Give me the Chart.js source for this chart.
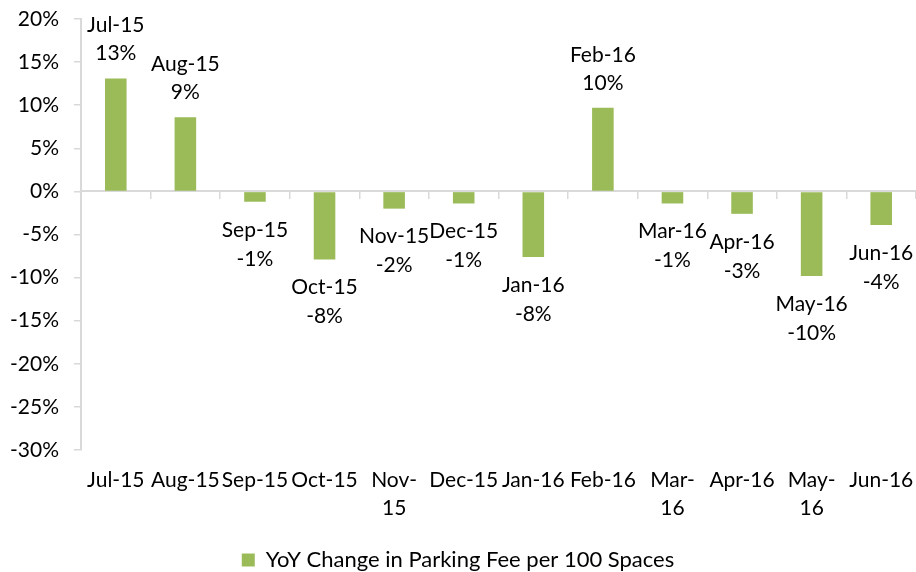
<!DOCTYPE html>
<html>
<head>
<meta charset="utf-8">
<script src="https://cdn.jsdelivr.net/npm/chart.js@4/dist/chart.umd.min.js"></script>
<style>
  html, body { margin: 0; padding: 0; background: #fff; }
  #wrap { width: 916px; height: 572px; position: relative; }
</style>
</head>
<body>
<div id="wrap"><canvas id="chart"></canvas></div>
<script>
// months shown on the chart
const months = ["Jul-15", "Aug-15", "Sep-15", "Oct-15", "Nov-15", "Dec-15",
                "Jan-16", "Feb-16", "Mar-16", "Apr-16", "May-16", "Jun-16"];
// axis labels (some wrap onto two lines in the original)
const tickLabels = ["Jul-15", "Aug-15", "Sep-15", "Oct-15", ["Nov-", "15"], "Dec-15",
                    "Jan-16", "Feb-16", ["Mar-", "16"], "Apr-16", ["May-", "16"], "Jun-16"];
// YoY change, percent
const yoyChange = [13.1, 8.6, -1.2, -7.9, -2.0, -1.4, -7.6, 9.7, -1.4, -2.6, -9.8, -3.9];
const seriesName = "YoY Change in Parking Fee per 100 Spaces";

const green = "#9BBB59";
const axisGrey = "#D9D9D9";
const fontFamily = "Lato, 'Open Sans', sans-serif";

// draws "Month / value%" above positive bars and below negative ones
const barLabels = {
    id: "barLabels",
    afterDatasetsDraw(chart) {
        const ctx = chart.ctx;
        const meta = chart.getDatasetMeta(0);
        ctx.save();
        ctx.font = "21px " + fontFamily;
        ctx.fillStyle = "#000";
        ctx.textAlign = "center";
        ctx.textBaseline = "middle";
        meta.data.forEach((bar, i) => {
            const v = yoyChange[i];
            const txt = Math.round(v) + "%";
            if (v >= 0) {
                ctx.fillText(txt, bar.x, bar.y - 25);
                ctx.fillText(months[i], bar.x, bar.y - 53);
            } else {
                ctx.fillText(months[i], bar.x, bar.y + 28);
                ctx.fillText(txt, bar.x, bar.y + 57);
            }
        });
        ctx.restore();
    }
};

new Chart(document.getElementById("chart"), {
    type: "bar",
    data: {
        labels: months,
        datasets: [{
            label: seriesName,
            data: yoyChange,
            backgroundColor: green,
            borderWidth: 0,
            categoryPercentage: 1,
            barPercentage: 0.31
        }]
    },
    options: {
        responsive: true,
        maintainAspectRatio: false,
        animation: false,
        layout: { padding: { left: 0, right: 0, top: 0, bottom: -9 } },
        plugins: {
            tooltip: { enabled: false },
            legend: {
                position: "bottom",
                labels: {
                    color: "#000",
                    font: { family: fontFamily, size: 22 },
                    boxWidth: 13,
                    boxHeight: 13,
                    padding: 10
                }
            }
        },
        scales: {
            x: {
                offset: true,
                grid: { display: false, drawTicks: false },
                border: { display: false },
                afterFit: s => { s.height = 89; s.paddingLeft = 0; s.paddingRight = 0; },
                ticks: {
                    color: "#000",
                    font: { family: fontFamily, size: 21, lineHeight: 1.333 },
                    padding: 16,
                    autoSkip: false,
                    maxRotation: 0,
                    callback: (v, i) => tickLabels[i]
                }
            },
            // zero line with category separators
            x2: {
                type: "category",
                axis: "x",
                position: { y: 0 },
                offset: true,
                afterFit: s => { s.paddingLeft = 0; s.paddingRight = 0; },
                grid: { offset: true, drawOnChartArea: false, drawTicks: true, tickLength: 7, color: axisGrey, lineWidth: 1.5 },
                border: { color: axisGrey, width: 2 },
                ticks: { display: false }
            },
            y: {
                min: -30,
                max: 20,
                afterFit: s => { s.width = 81; s.paddingTop = 19; s.paddingBottom = 19; },
                grid: { drawOnChartArea: false, drawTicks: true, tickLength: 7, color: axisGrey, lineWidth: 1.5 },
                border: { color: axisGrey, width: 2 },
                ticks: {
                    stepSize: 5,
                    color: "#000",
                    padding: 15,
                    font: { family: fontFamily, size: 21, lineHeight: 1 },
                    callback: v => v + "%"
                }
            }
        }
    },
    plugins: [barLabels]
});
</script>
</body>
</html>
